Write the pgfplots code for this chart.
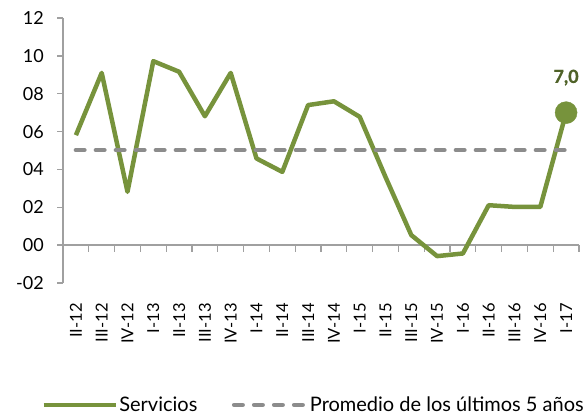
\documentclass[border=0pt]{standalone}
\usepackage{pgfplots}
\pgfplotsset{compat=1.18}
\usepackage{fontspec}
\setmainfont{Lato}
\newfontfamily\boldlato{Lato}[FakeBold=1.2]
\definecolor{serv}{HTML}{77933C}
\definecolor{prom}{HTML}{8C8C8C}
\definecolor{axg}{HTML}{A0A0A0}
\definecolor{lab}{HTML}{4F6228}
\newcommand{\yl}[1]{#1\kern13pt}
\begin{document}
\begin{tikzpicture}[x=1pt,y=1pt]
\useasboundingbox (0,0) rectangle (588,416);
\begin{axis}[
  at={(63pt,133pt)}, anchor=south west,
  scale only axis, width=516pt, height=265pt,
  xmin=-0.5, xmax=19.5, ymin=-2, ymax=12,
  axis y line*=left, axis x line*=bottom,
  x axis line style={draw=none},
  y axis line style={axg, line width=1.3pt},
  xtick={0,...,19},
  xticklabels={II-12,III-12,IV-12,I-13,II-13,III-13,IV-13,I-14,II-14,III-14,IV-14,I-15,II-15,III-15,IV-15,I-16,II-16,III-16,IV-16,I-17},
  x tick style={draw=none},
  xticklabel style={rotate=90, anchor=east, inner sep=0pt, font=\fontsize{16.5}{18}\selectfont},
  xticklabel shift=14pt,
  ytick={-2,0,2,4,6,8,10,12},
  yticklabels={\yl{-02},\yl{00},\yl{02},\yl{04},\yl{06},\yl{08},\yl{10},\yl{12}},
  y tick style={axg, line width=1.3pt},
  tick align=outside, major tick length=6pt,
  yticklabel style={anchor=east, inner sep=0pt, font=\fontsize{18}{20}\selectfont},
  clip=false,
  legend columns=2,
  legend style={at={(0.485,-0.46)}, anchor=center, draw=none, fill=none,
    font=\fontsize{20}{22}\selectfont,
    nodes={inner xsep=1.5pt},
    /tikz/every even column/.append style={column sep=33pt}},
  legend cell align=left,
  legend image code/.code={\draw[#1] (0pt,0pt) -- (72pt,0pt);},
]
\draw[axg, line width=1.3pt] (axis cs:-0.5,0) -- (axis cs:19.5,0);
\pgfplotsinvokeforeach{0,...,19}{\draw[axg, line width=1.3pt] (axis cs:#1.5,0) -- ++(0pt,-7pt);}
\addplot[serv, line width=4.5pt, line join=round] coordinates {
 (0,5.81) (1,9.10) (2,2.82) (3,9.72) (4,9.16) (5,6.81) (6,9.10) (7,4.58) (8,3.87) (9,7.40)
 (10,7.60) (11,6.78) (12,3.60) (13,0.53) (14,-0.58) (15,-0.44) (16,2.11) (17,2.02) (18,2.02) (19,7.0)};
\addlegendentry{Servicios}
\addplot[prom, line width=4.5pt, line cap=round, dash pattern=on 8.5pt off 11.5pt] coordinates {(0,5.02) (19,5.02)};
\addlegendentry{Promedio de los últimos 5 años}
\addplot[forget plot, only marks, mark=*, mark size=11pt, serv,
  nodes near coords={\boldlato\bfseries 7,0},
  every node near coord/.append style={anchor=south, yshift=27pt, inner sep=0pt, text=lab, font=\fontsize{18}{20}\selectfont}]
  coordinates {(19,7.0)};
\end{axis}
\end{tikzpicture}
\end{document}
